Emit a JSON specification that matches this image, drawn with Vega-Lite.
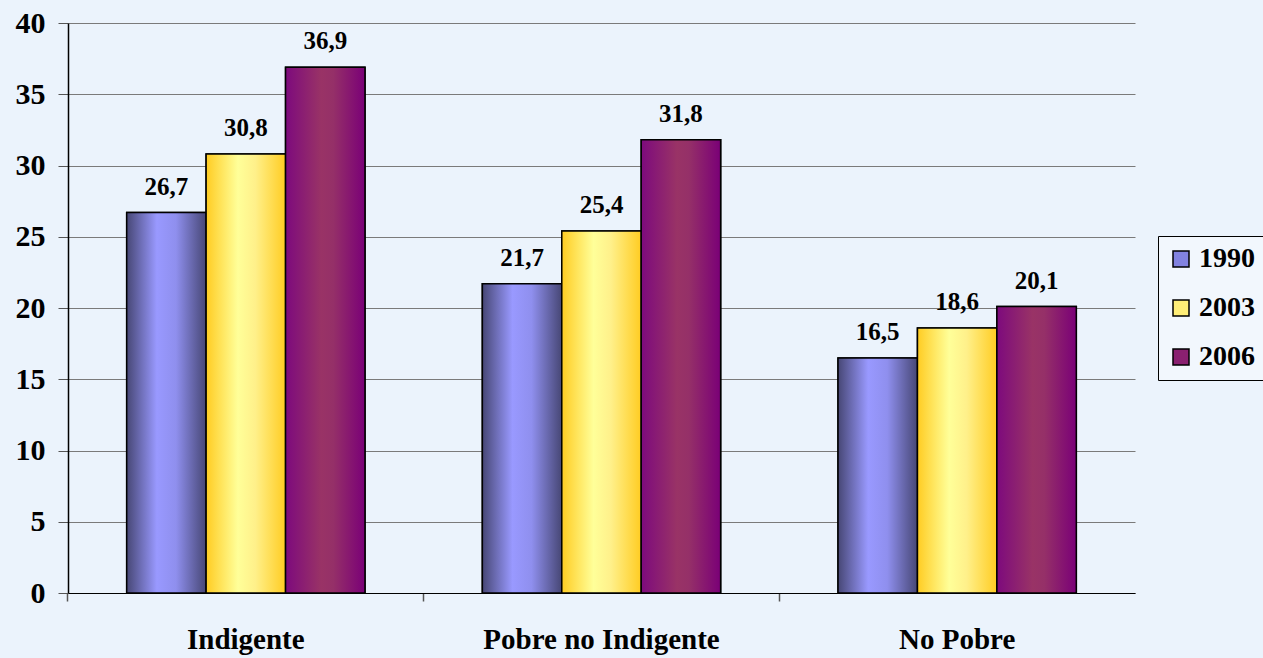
{
  "$schema": "https://vega.github.io/schema/vega-lite/v6.json",
  "width": 1067,
  "height": 570,
  "autosize": {"type": "none"},
  "padding": {"left": 68, "top": 23, "right": 128, "bottom": 65},
  "background": "#ebf3fc",
  "config": {
    "view": {"stroke": null},
    "font": "Liberation Serif"
  },
  "data": {
    "values": [
      {"categoria": "Indigente", "anio": "1990", "valor": 26.7, "etiqueta": "26,7"},
      {"categoria": "Indigente", "anio": "2003", "valor": 30.8, "etiqueta": "30,8"},
      {"categoria": "Indigente", "anio": "2006", "valor": 36.9, "etiqueta": "36,9"},
      {"categoria": "Pobre no Indigente", "anio": "1990", "valor": 21.7, "etiqueta": "21,7"},
      {"categoria": "Pobre no Indigente", "anio": "2003", "valor": 25.4, "etiqueta": "25,4"},
      {"categoria": "Pobre no Indigente", "anio": "2006", "valor": 31.8, "etiqueta": "31,8"},
      {"categoria": "No Pobre", "anio": "1990", "valor": 16.5, "etiqueta": "16,5"},
      {"categoria": "No Pobre", "anio": "2003", "valor": 18.6, "etiqueta": "18,6"},
      {"categoria": "No Pobre", "anio": "2006", "valor": 20.1, "etiqueta": "20,1"}
    ]
  },
  "encoding": {
    "x": {
      "field": "categoria",
      "type": "nominal",
      "sort": ["Indigente", "Pobre no Indigente", "No Pobre"],
      "scale": {"paddingInner": 0.33, "paddingOuter": 0.165},
      "axis": {
        "title": null,
        "labelAngle": 0,
        "labelFont": "Liberation Serif",
        "labelFontSize": 29,
        "labelFontWeight": "bold",
        "labelColor": "#000000",
        "labelPadding": 24,
        "labelLimit": 400,
        "domainColor": "#000000",
        "domainWidth": 1.2,
        "tickColor": "#555555",
        "tickSize": 8,
        "tickWidth": 1.5,
        "bandPosition": -0.2463
      }
    },
    "xOffset": {"field": "anio", "type": "nominal", "sort": ["1990", "2003", "2006"]},
    "y": {
      "field": "valor",
      "type": "quantitative",
      "scale": {"domain": [0, 40], "nice": false},
      "axis": {
        "title": null,
        "values": [0, 5, 10, 15, 20, 25, 30, 35, 40],
        "labelFont": "Liberation Serif",
        "labelFontSize": 30,
        "labelFontWeight": "bold",
        "labelColor": "#000000",
        "labelPadding": 13,
        "tickSize": 10,
        "tickColor": "#555555",
        "domainColor": "#000000",
        "domainWidth": 1.5,
        "gridColor": "#7a7a7a",
        "gridWidth": 1
      }
    }
  },
  "layer": [
    {
      "mark": {"type": "bar", "stroke": "#000000", "strokeWidth": 1.5, "opacity": 1},
      "encoding": {
        "fill": {
          "field": "anio",
          "type": "nominal",
          "scale": {
            "domain": ["1990", "2003", "2006"],
            "range": ["#8282e0", "#ffee77", "#8a2070"]
          },
          "legend": {
            "title": null,
            "orient": "none",
            "legendX": 1090,
            "legendY": 213,
            "symbolType": "square",
            "symbolSize": 256,
            "symbolStrokeColor": "#000000",
            "symbolStrokeWidth": 1.5,
            "labelFont": "Liberation Serif",
            "labelFontSize": 28,
            "labelFontWeight": "bold",
            "labelColor": "#000000",
            "rowPadding": 21,
            "padding": 9,
            "strokeColor": "#000000",
            "fillColor": "#f2f7fd",
            "labelOffset": 4
          }
        }
      }
    },
    {
      "transform": [{"filter": "datum.anio === '1990'"}],
      "mark": {"type": "bar", "stroke": "#000000", "strokeWidth": 1.5,
        "fill": {"gradient": "linear", "x1": 0, "y1": 0, "x2": 1, "y2": 0, "stops": [
          {"offset": 0, "color": "#474775"},
          {"offset": 0.38, "color": "#9999ff"},
          {"offset": 0.62, "color": "#8f8fee"},
          {"offset": 1, "color": "#474775"}]}}
    },
    {
      "transform": [{"filter": "datum.anio === '2003'"}],
      "mark": {"type": "bar", "stroke": "#000000", "strokeWidth": 1.5,
        "fill": {"gradient": "linear", "x1": 0, "y1": 0, "x2": 1, "y2": 0, "stops": [
          {"offset": 0, "color": "#ffcc22"},
          {"offset": 0.4, "color": "#ffff99"},
          {"offset": 0.62, "color": "#fff08a"},
          {"offset": 1, "color": "#ffcc22"}]}}
    },
    {
      "transform": [{"filter": "datum.anio === '2006'"}],
      "mark": {"type": "bar", "stroke": "#000000", "strokeWidth": 1.5,
        "fill": {"gradient": "linear", "x1": 0, "y1": 0, "x2": 1, "y2": 0, "stops": [
          {"offset": 0, "color": "#7d0a7d"},
          {"offset": 0.45, "color": "#993366"},
          {"offset": 0.6, "color": "#953068"},
          {"offset": 1, "color": "#7a0077"}]}}
    },
    {
      "mark": {"type": "text", "baseline": "alphabetic", "dy": -18, "font": "Liberation Serif", "fontSize": 25, "fontWeight": "bold", "color": "#000000"},
      "encoding": {
        "text": {"field": "etiqueta"}
      }
    }
  ]
}
